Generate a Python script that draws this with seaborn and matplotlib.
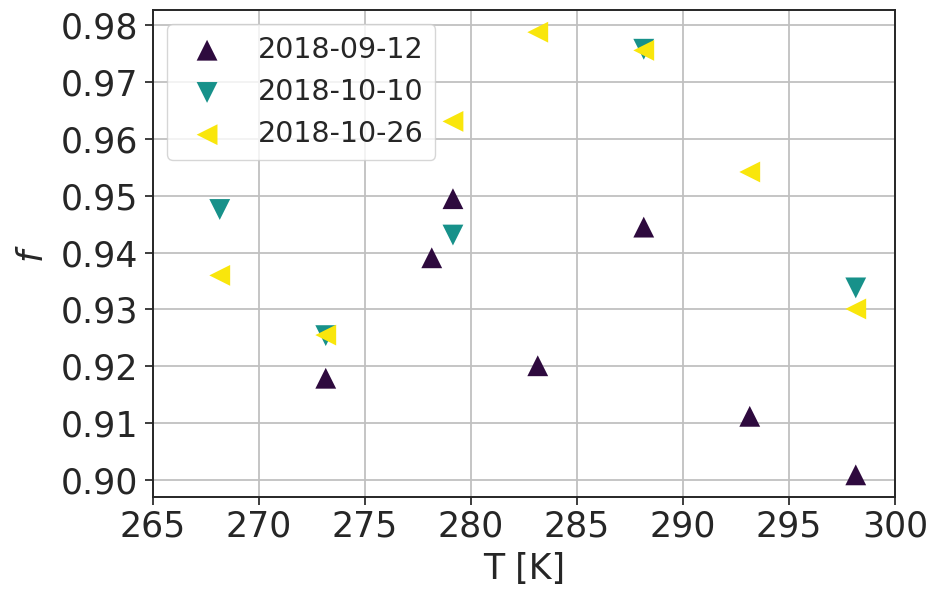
import matplotlib
matplotlib.use("Agg")
import matplotlib.pyplot as plt
import seaborn as sns

# measurement dates (legend labels)
dates = ["2018-09-12", "2018-10-10", "2018-10-26"]

# temperature [K] and f values per measurement date
T_0912 = [273.15, 278.15, 279.15, 283.15, 288.15, 293.15, 298.15]
f_0912 = [0.9179, 0.9391, 0.9495, 0.9201, 0.9445, 0.9112, 0.9009]

T_1010 = [268.15, 273.15, 279.15, 288.15, 298.15]
f_1010 = [0.9476, 0.9254, 0.9431, 0.9758, 0.9338]

T_1026 = [268.15, 273.15, 279.15, 283.15, 288.15, 293.15, 298.15]
f_1026 = [0.9360, 0.9255, 0.9631, 0.9788, 0.9756, 0.9542, 0.9301]

colors = ["#2e0a3e", "#17918a", "#f9e60c"]
markers = ["^", "v", "<"]

sns.set_style("ticks", {"axes.grid": True, "grid.color": "#c0c0c0"})
plt.rcParams["font.family"] = ["DejaVu Sans"]

fig, ax = plt.subplots(figsize=(9.31, 5.92), dpi=100)
fig.subplots_adjust(left=0.1643, right=0.9613, top=0.983, bottom=0.1605)

series = [(T_0912, f_0912), (T_1010, f_1010), (T_1026, f_1026)]
for (T, f), lab, c, m in zip(series, dates, colors, markers):
    sns.scatterplot(x=T, y=f, ax=ax, marker=m, color=c, s=225,
                    edgecolor="none", linewidth=0, label=lab, zorder=3)

ax.set_xlim(265, 300)
ax.set_xticks(range(265, 301, 5))
ax.set_yticks([0.90, 0.91, 0.92, 0.93, 0.94, 0.95, 0.96, 0.97, 0.98])
ax.yaxis.set_major_formatter(matplotlib.ticker.FormatStrFormatter("%.2f"))
ax.tick_params(labelsize=25, length=5.5, width=1.25, colors="#262626")
ax.tick_params(axis="y", pad=5)
ax.set_xlabel("T [K]", fontsize=25, labelpad=6)
ax.set_ylabel("$f$", fontsize=25, labelpad=8)
for sp in ax.spines.values():
    sp.set_color("#262626")
    sp.set_linewidth(1.4)
ax.grid(True, color="#c0c0c0", linewidth=1.3)
ax.set_axisbelow(True)

ax.legend(loc="upper left", fontsize=20.5)

plt.savefig("out.png", dpi=100)
plt.close()
